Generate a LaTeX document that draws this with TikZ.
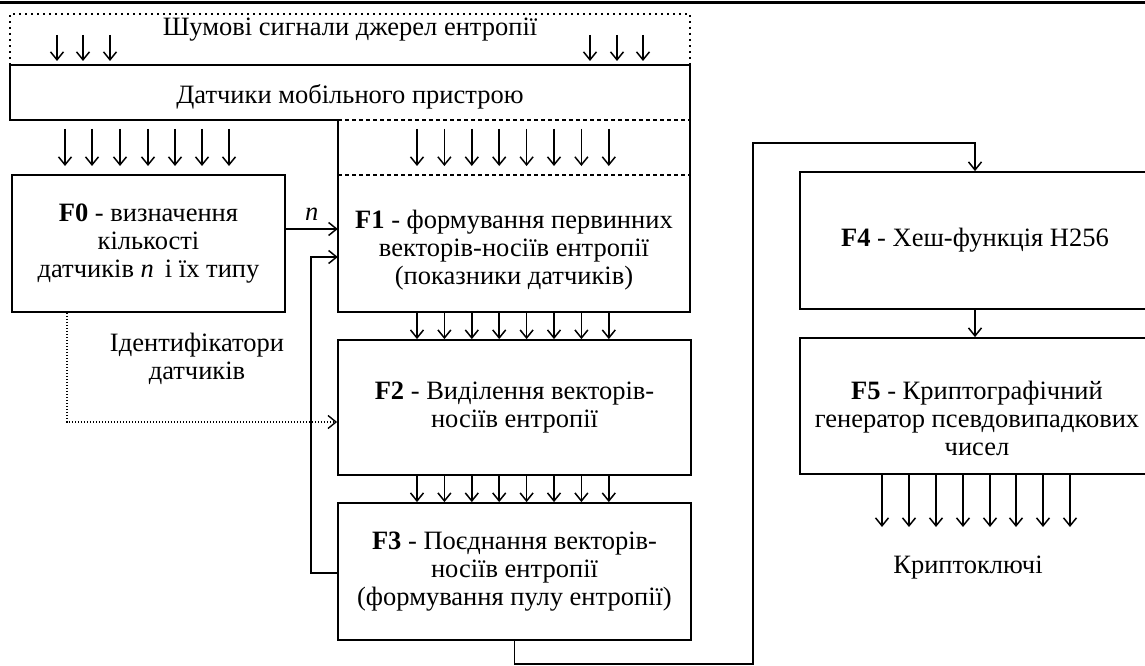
\documentclass[tikz,border=0pt]{standalone}
\usepackage{fontspec}
\setmainfont{Liberation Serif}
\usetikzlibrary{arrows.meta}
\newcommand\myfs{\fontsize{26.5}{28}\selectfont}
\begin{document}
\begin{tikzpicture}[x=1pt,y=-1pt,
  every node/.style={font=\myfs, inner sep=0pt, align=center},
  box/.style={draw, line width=1.8pt},
  frame/.style={line width=1.8pt},
  dashline/.style={line width=1.6pt, dash pattern=on 3.5pt off 3.5pt},
  dotline/.style={line width=1.8pt, dash pattern=on 2pt off 4pt},
  arr/.style={line width=1.5pt, -{Straight Barb[length=8pt,width=13pt,line width=1.5pt]}},
  dotarr/.style={line width=1.4pt, dash pattern=on 1.5pt off 1.5pt, -{Straight Barb[length=8pt,width=13pt,line width=1.4pt]}}
]
\useasboundingbox (0,0) rectangle (1145,666);
\clip (0,0) rectangle (1145,666);

% top rule
\draw[line width=3pt] (0,3) -- (1145,3);

% noise sources (dotted frame)
\draw[dotline] (10,65) -- (10,14) -- (690,14) -- (690,65);
\node (noise) at (350,30) {Шумові сигнали джерел ентропії};
\foreach \x in {57,83,110,590,617,643}
  \draw[arr] (\x,35) -- (\x,61);

% sensors frame + F1 region
\draw[frame] (10,65) -- (690,65) -- (690,312) -- (338,312) -- (338,120) -- (10,120) -- cycle;
\draw[dashline] (338,120) -- (690,120);
\draw[dashline] (338,175) -- (690,175);
\node (sensors) at (350,97) {Датчики мобільного пристрою};

\foreach \x in {65,92,120,148,175,202,229}
  \draw[arr] (\x,129) -- (\x,166);
\foreach \x in {417,444.4,471.8,499.2,526.6,554,581.4,608.8}
  \draw[arr] (\x,129) -- (\x,166);

% boxes
\node[box, minimum width=273, minimum height=137] (F0) at (148.5,243.5)
  {\textbf{F0} - визначення\\кількості\\датчиків \textit{n}\, і їх типу};
\node[minimum width=352, minimum height=137] (F1) at (514,243.5) {};
\node (F1text) at (514,250)
  {\textbf{F1} - формування первинних\\векторів-носіїв ентропії\\(показники датчиків)};
\node[box, minimum width=353, minimum height=135] (F2) at (514.5,407.5)
  {\textbf{F2} - Виділення векторів-\\носіїв ентропії};
\node[box, minimum width=353, minimum height=137] (F3) at (514.5,571.5)
  {\textbf{F3} - Поєднання векторів-\\носіїв ентропії\\(формування пулу ентропії)};
\node[box, minimum width=350, minimum height=137] (F4) at (975,240.5)
  {\textbf{F4} - Хеш-функція H256};
\node[box, minimum width=350, minimum height=136] (F5) at (975,406) {};
\node (F5text) at (977,418)
  {\textbf{F5} - Криптографічний\\генератор псевдовипадкових\\чисел};

% labels
\node (ids) at (197,359) {Ідентифікатори\\датчиків};
\node (keys) at (968,568) {Криптоключі};

% connectors
\draw[arr] (F0.east |- 0,229) -- (F1.west |- 0,229)
  node[midway, above=8pt] {\textit{n}};
\draw[arr] (F3.west |- 0,573) -| (311,257) -- (F1.west |- 0,257);
\draw[dotarr] (F0.south -| 67,0) |- (F2.west |- 0,422);

\foreach \x in {417,444.4,471.8,499.2,526.6,554,581.4,608.8}{
  \draw[arr] (F1.south -| \x,0) -- (F2.north -| \x,0);
  \draw[arr] (F2.south -| \x,0) -- (F3.north -| \x,0);
}

\draw[arr] (F3.south) -- ++(0,23) -| (753,143) -| (F4.north);
\draw[arr] (F4.south) -- (F5.north);
\foreach \x in {882,909,936,963,990,1016,1043,1070}
  \draw[arr] (F5.south -| \x,0) -- (\x,527);
\end{tikzpicture}
\end{document}
